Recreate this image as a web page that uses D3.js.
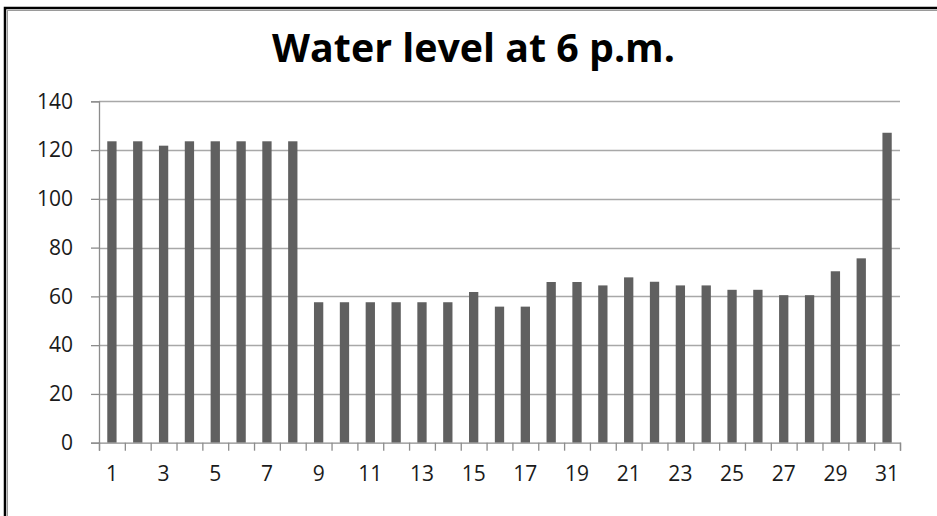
<!DOCTYPE html>
<html><head><meta charset="utf-8">
<script src="https://cdn.jsdelivr.net/npm/d3@7"></script>
<style>html,body{margin:0;padding:0;background:#fff;}svg{display:block;}</style>
</head><body>
<svg id="c" width="937" height="516"></svg>
<script>
const days = d3.range(1, 32).map(String);
const levels = [123.6,123.6,121.8,123.6,123.6,123.6,123.6,123.6,
  57.6,57.6,57.6,57.6,57.6,57.6,61.8,55.8,55.8,65.9,65.9,64.5,
  67.8,66,64.5,64.5,62.7,62.7,60.5,60.5,70.3,75.6,127.1];
const yTicks = [0,20,40,60,80,100,120,140];
const labelDays = days.filter((d,i)=>i%2===0);
const title = "Water level at 6 p.m.";

const svg = d3.select("#c");
const font = "'Open Sans', 'Liberation Sans', sans-serif";

// frame
svg.append("rect").attr("x",5).attr("y",8).attr("width",1000).attr("height",600)
  .attr("fill","#fff").attr("stroke","#000").attr("stroke-width",2.5);
svg.append("rect").attr("x",7.5).attr("y",10.5).attr("width",1000).attr("height",600)
  .attr("fill","none").attr("stroke","#9a9a9a").attr("stroke-width",1);

const L=99, R=900, T=101.3, B=442.7;
const x = d3.scaleBand().domain(days).range([L,R]).paddingInner(0.64).paddingOuter(0.32);
const xb = d3.scaleLinear().domain([0,31]).range([L,R]);
const y = d3.scaleLinear().domain([0,140]).range([B,T]);

// gridlines
svg.append("g").selectAll("line").data(yTicks.filter(d=>d>0)).join("line")
  .attr("x1",L).attr("x2",R).attr("y1",d=>Math.round(y(d))+0.5).attr("y2",d=>Math.round(y(d))+0.5)
  .attr("stroke","#a8a8a8").attr("stroke-width",1.3);

// bars
svg.append("g").selectAll("rect").data(levels).join("rect")
  .attr("x",(d,i)=>x(days[i])).attr("width",x.bandwidth())
  .attr("y",d=>y(d)).attr("height",d=>B-y(d))
  .attr("fill","#606060");

// y axis
const ya = svg.append("g").attr("transform",`translate(${L},0)`)
  .call(d3.axisLeft(y).tickValues(yTicks).tickSize(8).tickPadding(18));
ya.select(".domain").attr("stroke","#8c8c8c").attr("stroke-width",1.3);
ya.selectAll(".tick line").attr("stroke","#8c8c8c").attr("stroke-width",1.3);
ya.selectAll("text").attr("font-family",font).attr("font-size",21).attr("fill","#1a1a1a");

// x axis tick marks at band boundaries
const xt = svg.append("g").attr("transform",`translate(0,${B})`)
  .call(d3.axisBottom(xb).tickValues(d3.range(0,32)).tickSize(8).tickFormat(""));
xt.select(".domain").attr("stroke","#8c8c8c").attr("stroke-width",1.3);
xt.selectAll(".tick line").attr("stroke","#8c8c8c").attr("stroke-width",1.3);

// x labels
const xl = svg.append("g").attr("transform",`translate(0,${B})`)
  .call(d3.axisBottom(x).tickValues(labelDays).tickSize(0).tickPadding(23));
xl.select(".domain").remove();
xl.selectAll("text").attr("font-family",font).attr("font-size",21).attr("fill","#1a1a1a");

// title
const t = svg.append("text").attr("x",473.5).attr("y",62).attr("text-anchor","middle")
  .attr("font-family",font).attr("font-weight","bold").attr("font-size",28).attr("fill","#000")
  .text(title);
const w = t.node().getComputedTextLength();
t.attr("font-size", 28*403/w);
</script>
</body></html>
